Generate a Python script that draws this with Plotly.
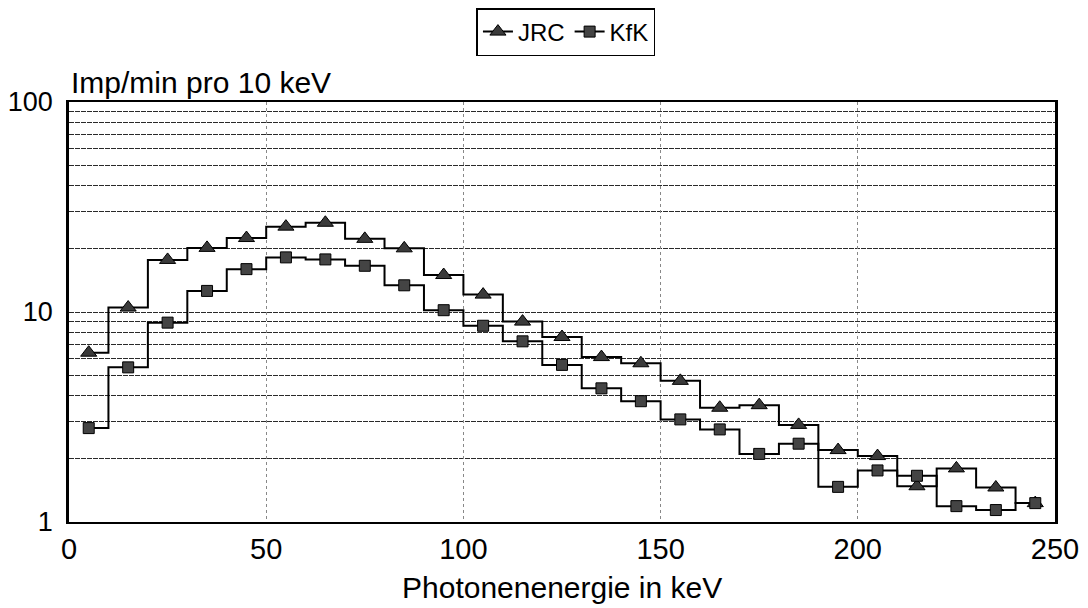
import plotly.graph_objects as go

# bin centres (keV), 10 keV wide bins
energie = [5, 15, 25, 35, 45, 55, 65, 75, 85, 95, 105, 115, 125, 135, 145,
           155, 165, 175, 185, 195, 205, 215, 225, 235, 245]

jrc = [6.4, 10.5, 17.7, 20.2, 22.5, 25.5, 26.6, 22.3, 20.1, 15.0, 12.1, 9.0, 7.6,
       6.1, 5.7, 4.7, 3.5, 3.6, 2.9, 2.2, 2.06, 1.48, 1.8, 1.46, 1.23]

kfk = [2.8, 5.45, 8.9, 12.6, 16.0, 18.2, 17.8, 16.6, 13.4, 10.2, 8.6, 7.25, 5.6,
       4.33, 3.76, 3.08, 2.76, 2.11, 2.36, 1.47, 1.76, 1.66, 1.19, 1.14, 1.23]

x_ticks = [0, 50, 100, 150, 200, 250]
y_ticks = [1, 10, 100]
y_minor = [2, 3, 4, 5, 6, 7, 8, 9, 20, 30, 40, 50, 60, 70, 80, 90]

FONT = "Liberation Sans, Arial, sans-serif"

fig = go.Figure()
fig.add_trace(go.Scatter(
    x=energie, y=jrc, name="JRC", mode="lines+markers",
    line=dict(color="black", width=2, shape="hvh"),
    marker=dict(symbol="triangle-up", size=14, color="#3a3a3a",
                line=dict(color="black", width=1)),
))
fig.add_trace(go.Scatter(
    x=energie, y=kfk, name="KfK", mode="lines+markers",
    line=dict(color="black", width=2, shape="hvh"),
    marker=dict(symbol="square", size=11, color="#444444",
                line=dict(color="black", width=1)),
))

# page body has an 8px margin, so the figure is a bit smaller than the window
fig.update_layout(
    width=1080, height=600,
    margin=dict(l=61, r=33, t=94, b=86),
    paper_bgcolor="white", plot_bgcolor="white",
    font=dict(family=FONT, size=30, color="black"),
    showlegend=True,
    legend=dict(
        orientation="h", x=0.504, xanchor="center", y=1.0, yref="container",
        yanchor="top", bordercolor="black", borderwidth=1.5,
        font=dict(size=24), itemwidth=30, tracegroupgap=0,
        bgcolor="white",
    ),
    annotations=[
        dict(text="Imp/min pro 10 keV", x=0, xref="paper", xanchor="left",
             y=1, yref="paper", yanchor="bottom", yshift=1, showarrow=False,
             font=dict(size=30)),
        dict(text="Photonenenergie in keV", x=0.5, xref="paper", xanchor="center",
             y=0, yref="paper", yanchor="top", yshift=-47, showarrow=False,
             font=dict(size=30)),
    ],
)

fig.update_xaxes(
    range=[0, 250], tickvals=x_ticks, ticks="", automargin=False,
    showline=True, linecolor="black", linewidth=2, mirror=True,
    showgrid=True, gridcolor="#888888", griddash="dot", gridwidth=1,
    zeroline=False,
    tickfont=dict(size=29),
)
fig.update_yaxes(
    type="log", range=[0, 2], tickvals=y_ticks, ticks="", automargin=False,
    ticklabelstandoff=8,
    showline=True, linecolor="black", linewidth=2.5, mirror=True,
    showgrid=True, gridcolor="#2a2a2a", griddash="5px,1px", gridwidth=1.3,
    minor=dict(tickvals=y_minor, showgrid=True, gridcolor="#2a2a2a",
               griddash="5px,1px", gridwidth=1.3, ticks=""),
    zeroline=False,
    tickfont=dict(size=27),
)

fig.write_html("out.html")
